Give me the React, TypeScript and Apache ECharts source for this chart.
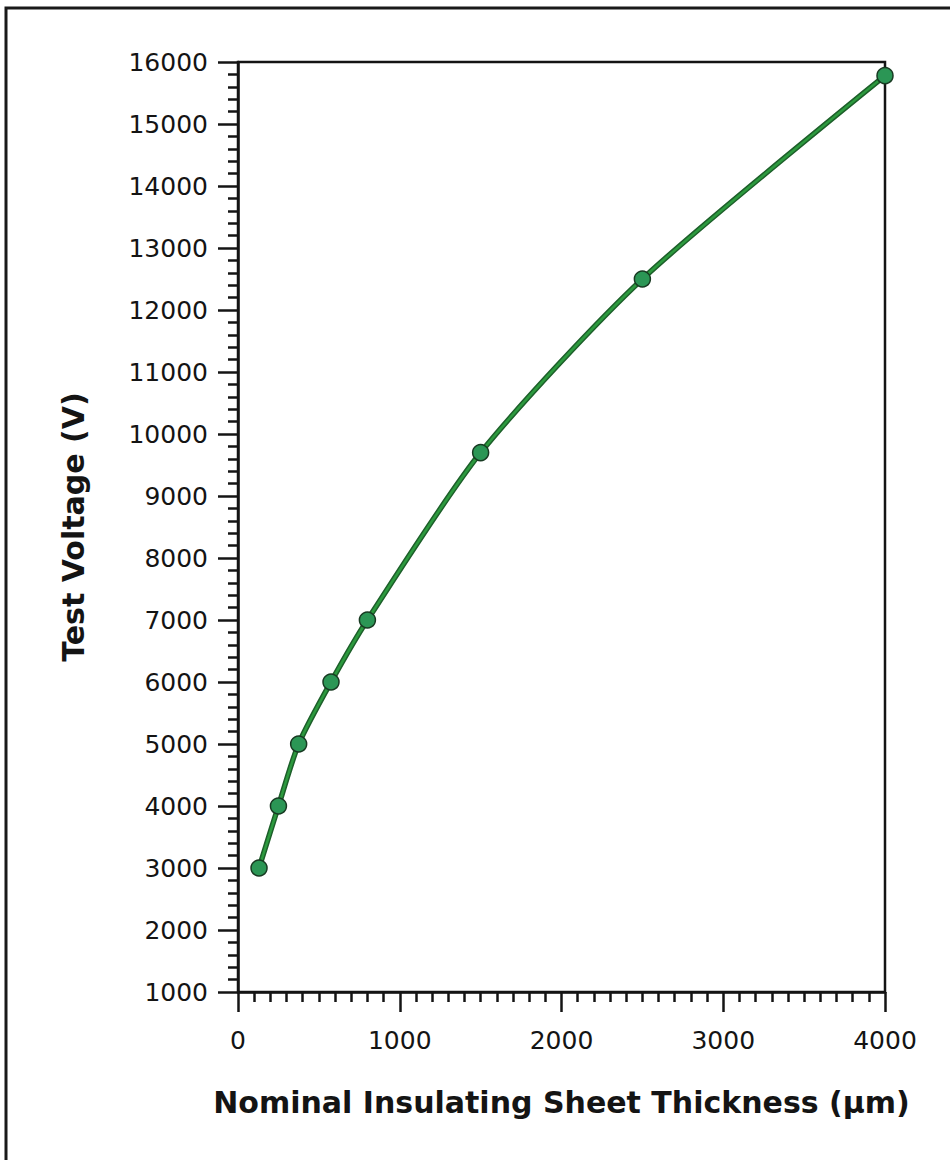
import React, { useEffect, useRef } from "react";
import * as echarts from "echarts";

const thickness = [130, 250, 375, 575, 800, 1500, 2500, 4000];
const voltage = [3000, 4000, 5000, 6000, 7000, 9700, 12500, 15780];
const xTitle = "Nominal Insulating Sheet Thickness (µm)";
const yTitle = "Test Voltage (V)";

export default function App() {
  const ref = useRef<HTMLDivElement>(null);
  useEffect(() => {
    document.body.style.margin = "0";
    const chart = echarts.init(ref.current!, null, { renderer: "svg" });
    const pts = thickness.map((x, i) => [x, voltage[i]]);
    const font = "DejaVu Sans";
    const ink = "#141414";
    const axisCommon = {
      axisLine: { show: true, lineStyle: { color: ink, width: 2.5 } },
      axisTick: { show: true, inside: false, length: 20, lineStyle: { color: ink, width: 2.5 } },
      minorTick: { show: true, length: 10, lineStyle: { color: ink, width: 2.5 } },
      splitLine: { show: false },
      minorSplitLine: { show: false },
      nameTextStyle: { fontFamily: font, fontWeight: "bold", fontSize: 30, color: ink },
    };
    const fmt = (v: number) => String(v);
    chart.setOption({
      animation: false,
      backgroundColor: "#ffffff",
      grid: {
        left: 238,
        right: 65,
        top: 62,
        bottom: 168,
        show: true,
        borderColor: ink,
        borderWidth: 2.5,
        backgroundColor: "transparent",
      },
      xAxis: {
        type: "value",
        min: 0,
        max: 4000,
        interval: 1000,
        name: xTitle,
        nameLocation: "middle",
        nameGap: 95,
        ...axisCommon,
        minorTick: { ...axisCommon.minorTick, splitNumber: 10 },
        axisLabel: { fontFamily: font, fontSize: 25, color: ink, margin: 36, formatter: fmt },
      },
      yAxis: {
        type: "value",
        min: 1000,
        max: 16000,
        interval: 1000,
        name: yTitle,
        nameLocation: "middle",
        nameGap: 150,
        ...axisCommon,
        minorTick: { ...axisCommon.minorTick, splitNumber: 5 },
        axisLabel: { fontFamily: font, fontSize: 25, color: ink, margin: 30, formatter: fmt },
      },
      graphic: [
        {
          type: "polyline",
          shape: { points: [[6, 1160], [6, 8], [950, 8]] },
          style: { stroke: "#1a1a1a", lineWidth: 3, fill: "none" },
          silent: true,
        },
      ],
      series: [
        {
          type: "line",
          data: pts,
          smooth: 0.25,
          showSymbol: false,
          symbol: "none",
          lineStyle: { color: "#1d5f2a", width: 5.5 },
          z: 2,
        },
        {
          type: "line",
          data: pts,
          smooth: 0.25,
          symbol: "circle",
          symbolSize: 16,
          lineStyle: { color: "#2c9a3e", width: 2.5 },
          itemStyle: { color: "#2b9655", borderColor: "#183a22", borderWidth: 1.5 },
          z: 3,
        },
      ],
    });
    return () => chart.dispose();
  }, []);
  return <div ref={ref} style={{ width: 950, height: 1160 }} />;
}
